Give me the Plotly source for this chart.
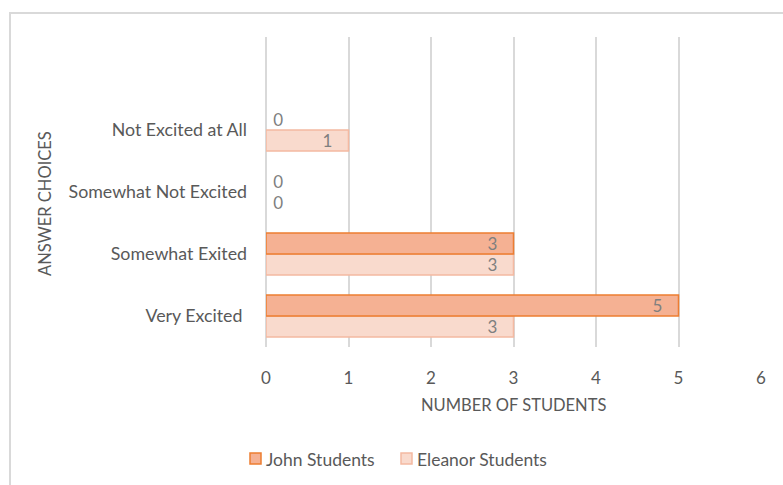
import plotly.graph_objects as go

categories = ["Very Excited ", "Somewhat Exited", "Somewhat Not Excited", "Not Excited at All"]
john = [5, 3, 0, 0]
eleanor = [3, 3, 0, 1]
x_ticks = [0, 1, 2, 3, 4, 5, 6]
series_names = ["John Students", "Eleanor Students"]

FONT = "Lato"
GRAY = "#595959"
LABEL = "#7F7F7F"
JOHN_FILL, JOHN_LINE = "#F5B193", "#ED7D31"
EL_FILL, EL_LINE = "#F9DACD", "#F4B9A1"
NB = "\u00a0"

def positions(vals):
    return ["outside" if v == 0 else "inside" for v in vals]

def labels(vals):
    return [f"{NB}{v}" if v == 0 else f"{v}{NB}{NB}{NB}" for v in vals]

def widths(vals):
    return [0 if v == 0 else 1.5 for v in vals]

fig = go.Figure()
fig.add_trace(go.Bar(
    name=series_names[1], y=categories, x=eleanor, orientation="h",
    marker=dict(color=EL_FILL, line=dict(color=EL_LINE, width=widths(eleanor))),
    text=labels(eleanor), textposition=positions(eleanor), textangle=0,
    insidetextanchor="end", cliponaxis=False, constraintext="none",
    textfont=dict(family=FONT, size=17, color=LABEL),
    showlegend=False,
))
fig.add_trace(go.Bar(
    name=series_names[0], y=categories, x=john, orientation="h",
    marker=dict(color=JOHN_FILL, line=dict(color=JOHN_LINE, width=widths(john))),
    text=labels(john), textposition=positions(john), textangle=0,
    insidetextanchor="end", cliponaxis=False, constraintext="none",
    textfont=dict(family=FONT, size=17, color=LABEL),
    showlegend=False,
))

L, R, T, B = 266, 22, 37, 138
W, H = 783, 485
pw, ph = W - L - R, H - T - B

def px(x):
    return (x - L) / pw

def py(y):
    return 1 - (y - T) / ph

# manual legend (boxes + text)
legend_items = [
    (series_names[0], JOHN_FILL, JOHN_LINE, 250, 264),
    (series_names[1], EL_FILL, EL_LINE, 401, 415),
]
shapes = [
    dict(type="line", xref="paper", yref="paper", x0=px(10), x1=px(10), y0=py(13), y1=py(500),
         line=dict(color="#D9D9D9", width=2)),
    dict(type="line", xref="paper", yref="paper", x0=px(9), x1=px(800), y0=py(13), y1=py(13),
         line=dict(color="#D9D9D9", width=2)),
]
annotations = [
    dict(text="NUMBER OF STUDENTS", xref="paper", yref="paper", x=px(513), y=py(405),
         xanchor="center", yanchor="middle", showarrow=False,
         font=dict(family=FONT, size=16.5, color=GRAY)),
    dict(text="ANSWER CHOICES", xref="paper", yref="paper", x=px(45), y=py(204),
         xanchor="center", yanchor="middle", showarrow=False, textangle=-90,
         font=dict(family=FONT, size=16.5, color=GRAY)),
]
for name, fill, line, bx, tx in legend_items:
    shapes.append(dict(type="rect", xref="paper", yref="paper",
                       x0=px(bx), x1=px(bx + 11), y0=py(453), y1=py(464),
                       fillcolor=fill, line=dict(color=line, width=1.5)))
    annotations.append(dict(text=name, xref="paper", yref="paper", x=px(tx), y=py(459),
                            xanchor="left", yanchor="middle", showarrow=False,
                            font=dict(family=FONT, size=17.5, color=GRAY)))

fig.update_layout(
    width=W, height=H,
    margin=dict(l=L, r=R, t=T, b=B),
    paper_bgcolor="white", plot_bgcolor="white",
    barmode="group", bargap=0.32, bargroupgap=0,
    font=dict(family=FONT, size=17, color=GRAY),
    showlegend=False,
    uniformtext=dict(mode=False),
    xaxis=dict(range=[0, 6], tickvals=x_ticks, showgrid=True, gridcolor="#D9D9D9", gridwidth=1.5,
               zeroline=True, zerolinecolor="#D9D9D9", zerolinewidth=1.5, showline=False,
               ticks="", ticklabelstandoff=19,
               tickfont=dict(family=FONT, size=17, color=GRAY)),
    yaxis=dict(type="category", categoryorder="array", categoryarray=categories,
               range=[-0.5, 4.5], showgrid=False, zeroline=False, showline=False,
               ticks="", ticklabelstandoff=18,
               tickfont=dict(family=FONT, size=17.8, color=GRAY)),
    annotations=annotations,
    shapes=shapes,
)

fig.write_html("out.html")
